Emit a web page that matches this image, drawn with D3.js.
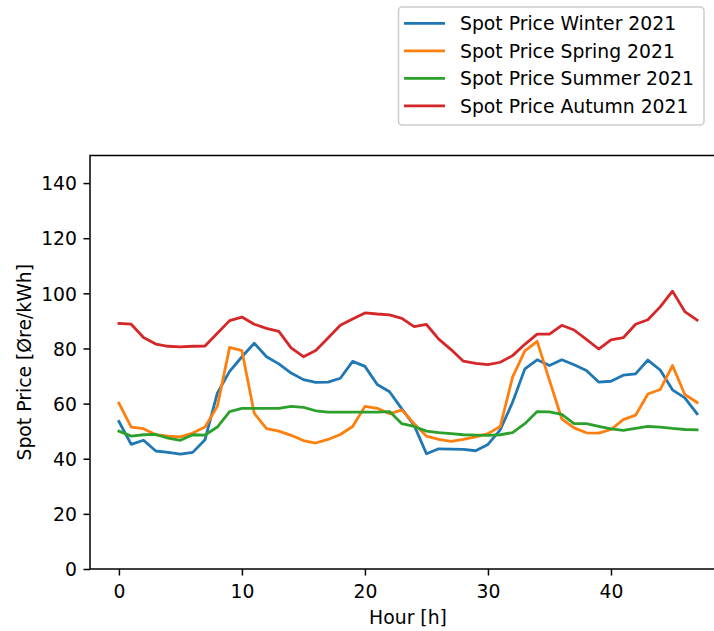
<!DOCTYPE html>
<html>
<head>
<meta charset="utf-8">
<script src="https://cdn.jsdelivr.net/npm/d3@7"></script>
<style>
  html, body { margin: 0; padding: 0; background: #fff; }
  svg { display: block; font-family: "DejaVu Sans", sans-serif; }
</style>
</head>
<body>
<svg id="chart" width="714" height="631"></svg>
<script>
// Hourly spot prices (Øre/kWh) over two days, one series per season
const hours = d3.range(0, 48);
const winter = [53.5,45.2,46.7,42.8,42.3,41.7,42.3,46.9,63.8,71.7,
                77,81.9,77,74.4,71.1,68.7,67.7,67.8,69.2,75.3,
                73.5,66.9,64.3,58.1,52.1,41.8,43.6,43.5,43.4,42.9,
                45.2,50.5,60.5,72.6,75.9,73.8,75.9,74.1,72,67.8,
                68.1,70.3,70.8,75.8,72.2,65,62.1,56.3];
const spring = [60.2,51.5,50.9,48.7,48.2,47.9,49.3,51.5,59,80.4,
                79.2,56.5,50.9,50,48.5,46.6,45.7,47,48.8,51.7,
                59,58.3,56.3,57.7,52.7,48.2,47,46.3,47,47.9,
                49.1,51.7,69.6,79.1,82.6,68.4,54.5,51.2,49.4,49.3,
                50.6,54.2,55.8,63.5,65.1,73.8,63.3,60.4];
const summer = [50,48.2,48.7,48.8,47.5,46.7,48.7,48.6,51.5,57.1,
                58.3,58.3,58.3,58.3,59,58.6,57.4,56.9,56.9,56.9,
                56.9,56.9,57.1,52.7,51.7,50,49.5,49.1,48.7,48.6,
                48.5,48.7,49.5,52.7,57.1,57,56.1,52.7,52.7,51.7,
                50.8,50.3,51,51.7,51.5,51,50.6,50.5];
const autumn = [89.1,88.8,84,81.6,80.8,80.6,80.8,80.9,85.5,90.1,
                91.4,88.8,87.3,86.2,80.2,77,79.3,83.8,88.4,90.7,
                92.9,92.5,92.2,90.9,87.9,88.7,83.4,79.6,75.4,74.6,
                74.1,75,77.4,81.5,85.2,85.2,88.4,86.7,83.3,79.8,
                83.1,83.9,88.8,90.4,95.1,100.8,93.4,90.3];
const seriesNames = ["Spot Price Winter 2021", "Spot Price Spring 2021",
                     "Spot Price Summer 2021", "Spot Price Autumn 2021"];
const seriesColors = ["#1f77b4", "#ff7f0e", "#2ca02c", "#d62728"];
const xTicks = [0, 10, 20, 30, 40];
const yTicks = [0, 20, 40, 60, 80, 100, 120, 140];

const series = [winter, spring, summer, autumn].map((vals, i) => ({
  name: seriesNames[i], color: seriesColors[i],
  points: hours.map((h, j) => [h, vals[j]])
}));

const svg = d3.select("#chart");
const fs = 18.8;
const plot = { left: 90, right: 726, top: 155.5, bottom: 569 };

const x = d3.scaleLinear().domain([-2.35, 49.35]).range([plot.left, plot.right]);
const y = d3.scaleLinear().domain([0, 150]).range([plot.bottom, plot.top]);

// Series lines
const line = d3.line().x(d => x(d[0])).y(d => y(d[1]));
svg.append("g").selectAll("path").data(series).join("path")
  .attr("d", d => line(d.points))
  .attr("fill", "none")
  .attr("stroke", d => d.color)
  .attr("stroke-width", 2.8)
  .attr("stroke-linejoin", "round")
  .attr("stroke-linecap", "square");

// Axes
const xAxis = d3.axisBottom(x).tickValues(xTicks).tickSize(6.5).tickPadding(8.5).tickFormat(d3.format("d"));
const yAxis = d3.axisLeft(y).tickValues(yTicks).tickSize(6.5).tickPadding(6.5).tickFormat(d3.format("d"));

const gx = svg.append("g").attr("transform", `translate(0,${plot.bottom})`).call(xAxis);
const gy = svg.append("g").attr("transform", `translate(${plot.left},0)`).call(yAxis);
[gx, gy].forEach(g => {
  g.select(".domain").remove();
  g.selectAll(".tick line").attr("stroke", "#000").attr("stroke-width", 1.5);
  g.selectAll(".tick text").attr("fill", "#000").attr("font-size", fs)
    .attr("font-family", "DejaVu Sans, sans-serif");
});
gx.selectAll(".tick text").attr("dy", null).attr("y", 28.7);
gy.selectAll(".tick text").attr("dy", "0.36em");

// Spines
svg.append("rect")
  .attr("x", plot.left).attr("y", plot.top)
  .attr("width", plot.right - plot.left).attr("height", plot.bottom - plot.top)
  .attr("fill", "none").attr("stroke", "#000").attr("stroke-width", 1.5);

// Axis labels
svg.append("text")
  .attr("x", x(23.5)).attr("y", 624.3)
  .attr("text-anchor", "middle").attr("font-size", fs).text("Hour [h]");
svg.append("text")
  .attr("transform", `translate(31,${(plot.top + plot.bottom) / 2}) rotate(-90)`)
  .attr("text-anchor", "middle").attr("font-size", fs).text("Spot Price [Øre/kWh]");

// Legend
const legend = svg.append("g");
legend.append("rect")
  .attr("x", 398.5).attr("y", 7).attr("width", 305.5).attr("height", 118)
  .attr("rx", 3.7).attr("fill", "#fff")
  .attr("stroke", "#cccccc").attr("stroke-width", 1.5);
const rowY = d3.scaleLinear().domain([0, 3]).range([23.3, 105.8]);
const rows = legend.selectAll("g.row").data(series).join("g").attr("class", "row")
  .attr("transform", (d, i) => `translate(0,${rowY(i)})`);
rows.append("line").attr("x1", 404).attr("x2", 445).attr("y1", 0).attr("y2", 0)
  .attr("stroke", d => d.color).attr("stroke-width", 2.8);
rows.append("text").attr("x", 460).attr("y", 0).attr("dy", "0.36em")
  .attr("font-size", fs).attr("fill", "#000").text(d => d.name);
</script>
</body>
</html>
